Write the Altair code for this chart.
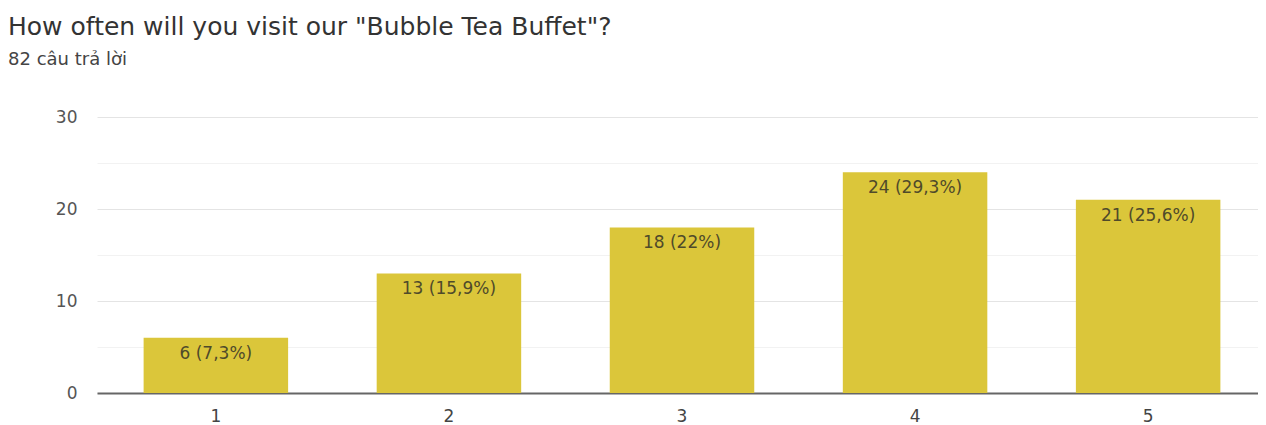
import altair as alt
import pandas as pd

categories = ["1", "2", "3", "4", "5"]
counts = [6, 13, 18, 24, 21]
labels = ["6 (7,3%)", "13 (15,9%)", "18 (22%)", "24 (29,3%)", "21 (25,6%)"]
y_ticks = [0, 5, 10, 15, 20, 25, 30]

df = pd.DataFrame({"cat": categories, "count": counts, "label": labels})

FONT = "DejaVu Sans"

x_enc = alt.X(
    "cat:N",
    sort=categories,
    title=None,
    scale=alt.Scale(paddingInner=0.38, paddingOuter=0.2, range=[0, 1170]),
    axis=alt.Axis(
        labelAngle=0, ticks=False, domain=True, domainColor="#666666", domainWidth=2,
        labelFontSize=17, labelColor="#444444", labelPadding=15, labelFont=FONT, grid=False,
    ),
)

y_enc = alt.Y(
    "count:Q",
    title=None,
    scale=alt.Scale(domain=[0, 30], nice=False),
    axis=alt.Axis(
        values=y_ticks,
        labelExpr="datum.value % 10 == 0 ? datum.label : ''",
        ticks=False, domain=False,
        labelFontSize=17, labelColor="#555555", labelPadding=20, labelFont=FONT,
        gridColor={"condition": {"test": "datum.value % 10 == 0", "value": "#e4e4e4"}, "value": "#f2f2f2"},
        gridWidth=1,
    ),
)

bars = alt.Chart(df).mark_bar(color="#dbc63a").encode(x=x_enc, y=y_enc)

text = alt.Chart(df).mark_text(
    baseline="top", dy=8, fontSize=17, color="#4f4a2a", font=FONT
).encode(
    x=alt.X("cat:N", sort=categories),
    y=alt.Y("count:Q"),
    text="label:N",
)

chart = (
    alt.layer(bars, text)
    .properties(
        width=1161,
        height=276,
        autosize=alt.AutoSizeParams(type="none"),
        padding={"left": 89, "top": 109, "right": 0, "bottom": 32},
        title=alt.TitleParams(
            text='How often will you visit our "Bubble Tea Buffet"?',
            subtitle="82 câu trả lời",
            anchor="start",
            frame="group",
            dx=-89,
            offset=39,
            font=FONT,
            fontSize=25,
            fontWeight="normal",
            color="#333333",
            subtitleFont=FONT,
            subtitleFontSize=18,
            subtitleColor="#444444",
            subtitlePadding=11,
        ),
    )
    .configure_view(stroke=None)
)

chart.save("out.html", embed_options={"renderer": "svg", "actions": False})
